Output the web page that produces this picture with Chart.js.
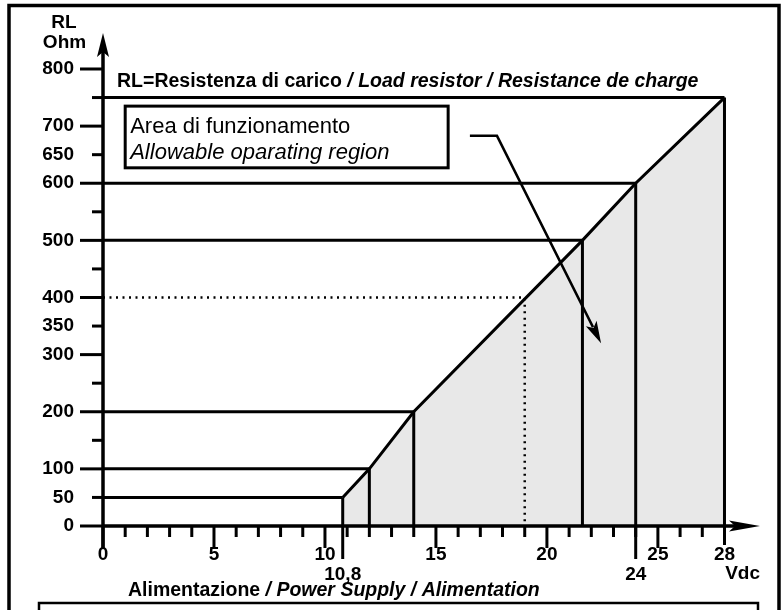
<!DOCTYPE html>
<html><head><meta charset="utf-8">
<script src="https://cdn.jsdelivr.net/npm/chart.js@4.4.0/dist/chart.umd.min.js"></script>
<style>html,body{margin:0;padding:0;background:#fff}canvas{display:block}</style>
</head><body>
<canvas id="c" width="783" height="610"></canvas>
<script>
// ---- data ----
const supplyVoltage   = [10.8, 12, 14, 21.6, 24, 28];     // Vdc at the corners of the region
const loadResistance  = [50, 100, 200, 500, 600, 750];    // Ohm at the same corners
const exampleVoltage    = 19;
const exampleResistance = 400;
const yTickValues = [0, 50, 100, 200, 300, 350, 400, 500, 600, 650, 700, 800];
const xTickValues = [0, 5, 10, 10.8, 15, 20, 24, 25, 28];
const xTickLabels = ['0', '5', '10', ['', '10,8'], '15', '20', ['', '24'], '25', '28'];
const yMinorTicks = [50, 150, 250, 350, 450, 550, 650, 750];
const yMajorTicks = [0, 100, 200, 300, 400, 500, 600, 700, 800];
const xMajorTicks = [0, 5, 10, 15, 20, 25];

const FONT = '"Liberation Sans", Arial, Helvetica, sans-serif';

const lineStyle = { borderColor: '#000', borderWidth: 3, pointRadius: 0, showLine: true, fill: false, order: 0 };
const datasets = [];
supplyVoltage.forEach((v, i) => {
  const r = loadResistance[i];
  datasets.push({ label: 'RL ' + r, data: [{x: 0, y: r}, {x: v, y: r}], ...lineStyle });
  datasets.push({ label: 'V ' + v, data: [{x: v, y: r}, {x: v, y: 0}], ...lineStyle });
});
datasets.push({ label: 'example', data: [{x: 0, y: exampleResistance}, {x: exampleVoltage, y: exampleResistance}, {x: exampleVoltage, y: 0}],
  ...lineStyle, borderWidth: 2.5, borderDash: [2, 4.5] });
datasets.push({ label: 'Area di funzionamento', data: supplyVoltage.map((v, i) => ({x: v, y: loadResistance[i]})),
  showLine: true, pointRadius: 0, borderColor: '#000', borderWidth: 3, fill: 'origin', backgroundColor: '#e8e8e8', order: 1 });

function runs(ctx, parts, x, y) {
  parts.forEach(p => { ctx.font = p.f; ctx.fillText(p.t, x, y); x += ctx.measureText(p.t).width; });
}

const decor = {
  id: 'decor',
  beforeDraw(chart) {
    const ctx = chart.ctx;
    ctx.save(); ctx.fillStyle = '#fff'; ctx.fillRect(0, 0, chart.width, chart.height); ctx.restore();
  },
  afterDatasetsDraw(chart) {
    const ctx = chart.ctx, xs = chart.scales.x, ys = chart.scales.y;
    const X = v => xs.getPixelForValue(v), Y = v => ys.getPixelForValue(v);
    const x0 = X(0), y0 = Y(0);
    ctx.save();
    ctx.strokeStyle = '#000'; ctx.fillStyle = '#000'; ctx.lineCap = 'butt';

    // outer frame and lower box
    ctx.lineWidth = 3.5; ctx.strokeRect(9, 5.5, 770, 700);
    ctx.lineWidth = 2.5; ctx.strokeRect(39, 603, 719, 60);

    // axes
    ctx.lineWidth = 3.5;
    ctx.beginPath(); ctx.moveTo(x0, y0 + 22); ctx.lineTo(x0, chart.chartArea.top + 18); ctx.stroke();
    ctx.beginPath(); ctx.moveTo(x0, y0); ctx.lineTo(chart.chartArea.right - 25, y0); ctx.stroke();
    // arrow heads
    const yt = chart.chartArea.top, xr = chart.chartArea.right;
    ctx.beginPath(); ctx.moveTo(x0, yt); ctx.lineTo(x0 + 6, yt + 24); ctx.lineTo(x0, yt + 19); ctx.lineTo(x0 - 6, yt + 24); ctx.closePath(); ctx.fill();
    ctx.beginPath(); ctx.moveTo(xr, y0); ctx.lineTo(xr - 31, y0 - 5.5); ctx.lineTo(xr - 25, y0); ctx.lineTo(xr - 31, y0 + 5.5); ctx.closePath(); ctx.fill();

    // y ticks
    ctx.lineWidth = 3;
    yMajorTicks.forEach(v => { ctx.beginPath(); ctx.moveTo(x0 - 23, Y(v)); ctx.lineTo(x0, Y(v)); ctx.stroke(); });
    yMinorTicks.forEach(v => { ctx.beginPath(); ctx.moveTo(x0 - 11, Y(v)); ctx.lineTo(x0, Y(v)); ctx.stroke(); });
    // x ticks
    for (let v = 1; v < 28; v++) {
      if (v % 5 === 0) continue;
      ctx.beginPath(); ctx.moveTo(X(v), y0); ctx.lineTo(X(v), y0 + 11); ctx.stroke();
    }
    xMajorTicks.forEach(v => { ctx.beginPath(); ctx.moveTo(X(v), y0); ctx.lineTo(X(v), y0 + 22); ctx.stroke(); });
    // extended marks for the labelled voltages
    [[supplyVoltage[0], 33], [supplyVoltage[4], 33], [supplyVoltage[5], 19]].forEach(([v, len]) => {
      ctx.beginPath(); ctx.moveTo(X(v), y0); ctx.lineTo(X(v), y0 + len); ctx.stroke();
    });

    // annotation box
    ctx.lineWidth = 3;
    const bx1 = X(1), by1 = Y(735), bx2 = X(15.55), by2 = Y(627);
    ctx.strokeRect(bx1, by1, bx2 - bx1, by2 - by1);
    ctx.textAlign = 'left'; ctx.textBaseline = 'alphabetic';
    ctx.font = '22px ' + FONT; ctx.fillText('Area di funzionamento', bx1 + 5, by1 + 27);
    ctx.font = 'italic 22px ' + FONT; ctx.fillText('Allowable oparating region', bx1 + 5, by1 + 53);

    // pointer arrow
    const p1 = [X(16.53), Y(683)], p2 = [X(17.75), Y(683)], p3 = [X(22.44), Y(320)];
    ctx.lineWidth = 2.5;
    const dx = p3[0] - p2[0], dy = p3[1] - p2[1], L = Math.hypot(dx, dy), ux = dx / L, uy = dy / L;
    const hl = 22, hw = 6;
    ctx.beginPath(); ctx.moveTo(p1[0], p1[1]); ctx.lineTo(p2[0], p2[1]);
    ctx.lineTo(p3[0] - ux * (hl - 4), p3[1] - uy * (hl - 4)); ctx.stroke();
    ctx.beginPath(); ctx.moveTo(p3[0], p3[1]);
    ctx.lineTo(p3[0] - ux * hl - uy * hw, p3[1] - uy * hl + ux * hw);
    ctx.lineTo(p3[0] - ux * (hl - 5), p3[1] - uy * (hl - 5));
    ctx.lineTo(p3[0] - ux * hl + uy * hw, p3[1] - uy * hl - ux * hw);
    ctx.closePath(); ctx.fill();

    // texts
    ctx.textAlign = 'center';
    ctx.font = 'bold 19px ' + FONT;
    ctx.fillText('RL', 64, 28);
    ctx.fillText('Ohm', 64.5, 48);
    ctx.textAlign = 'left';
    runs(ctx, [{t: 'RL=Resistenza di carico ', f: 'bold 19.5px ' + FONT},
               {t: '/ Load resistor / Resistance de charge', f: 'italic bold 19.5px ' + FONT}], 117, 87);
    runs(ctx, [{t: 'Alimentazione ', f: 'bold 19.5px ' + FONT},
               {t: '/ Power Supply / Alimentation', f: 'italic bold 19.5px ' + FONT}], 128, 596);
    ctx.restore();
  }
};

new Chart(document.getElementById('c'), {
  type: 'scatter',
  data: { datasets },
  options: {
    responsive: false, animation: false, devicePixelRatio: 1,
    layout: { padding: { top: 33, right: 23, left: 0, bottom: 0 } },
    plugins: { legend: { display: false }, tooltip: { enabled: false }, title: { display: false } },
    scales: {
      x: {
        type: 'linear', min: 0, max: 29.6,
        afterBuildTicks: s => { s.ticks = xTickValues.map(v => ({ value: v })); },
        afterFit: s => { s.height = 84; s.paddingLeft = 0; s.paddingRight = 0; },
        grid: { display: false, drawTicks: false }, border: { display: false },
        ticks: { autoSkip: false, maxRotation: 0, minRotation: 0, padding: 19, color: '#000',
          font: { family: FONT, size: 19, weight: 'bold', lineHeight: 1.03 },
          callback: v => xTickLabels[xTickValues.indexOf(v)] },
        title: { display: true, text: 'Vdc', align: 'end', color: '#000',
          font: { family: FONT, size: 19, weight: 'bold' }, padding: { top: 0, bottom: 25 } }
      },
      y: {
        type: 'linear', min: 0, max: 863,
        afterBuildTicks: s => { s.ticks = yTickValues.map(v => ({ value: v })); },
        afterFit: s => { s.width = 103; s.paddingTop = 0; s.paddingBottom = 0; },
        grid: { display: false, drawTicks: false }, border: { display: false },
        ticks: { autoSkip: false, padding: 29, color: '#000',
          font: { family: FONT, size: 19, weight: 'bold' },
          callback: v => String(v) }
      }
    }
  },
  plugins: [decor]
});
</script>
</body></html>
